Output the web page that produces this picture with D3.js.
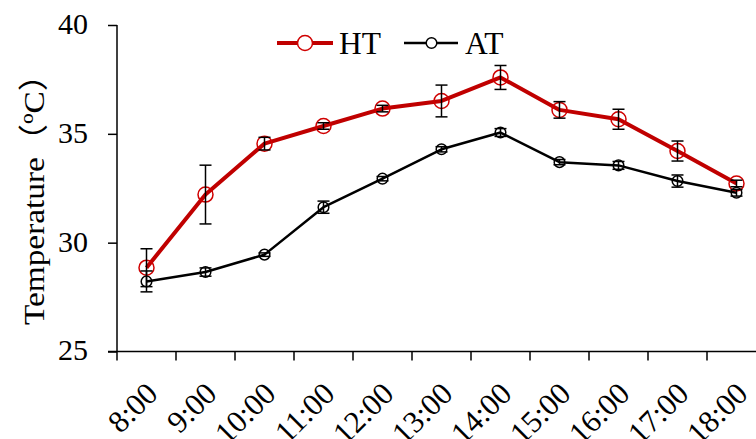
<!DOCTYPE html>
<html>
<head>
<meta charset="utf-8">
<script src="https://cdn.jsdelivr.net/npm/d3@7"></script>
<style>
  html, body { margin: 0; padding: 0; background: #fff; }
  svg { display: block; }
  text { font-family: "Liberation Serif", "Times New Roman", "Noto Sans CJK SC", serif; fill: #000; }
</style>
</head>
<body>
<svg id="chart" width="756" height="439"></svg>
<script>
const categories = ["8:00","9:00","10:00","11:00","12:00","13:00","14:00","15:00","16:00","17:00","18:00"];
const htValues = [28.85, 32.21, 34.55, 35.36, 36.16, 36.51, 37.59, 36.10, 35.67, 34.21, 32.72];
const htErrors = [0.87, 1.35, 0.29, 0.15, 0.15, 0.73, 0.55, 0.38, 0.46, 0.46, 0.15];
const atValues = [28.22, 28.65, 29.45, 31.63, 32.94, 34.29, 35.06, 33.70, 33.55, 32.83, 32.29];
const atErrors = [0.48, 0.19, 0.08, 0.28, 0.10, 0.12, 0.18, 0.12, 0.18, 0.28, 0.15];
const yTicks = [25, 30, 35, 40];
const seriesNames = ["HT", "AT"];
const yTitle = "Temperature（ºC）";

const svg = d3.select("#chart");
const x = d3.scaleBand().domain(categories).range([117, 766]).padding(0);
const y = d3.scaleLinear().domain([25, 40]).range([351.5, 25]);
const cx = c => x(c) + x.bandwidth() / 2;

// Y axis
const yAxis = d3.axisLeft(y).tickValues(yTicks).tickSize(9).tickPadding(20).tickFormat(d3.format("d"));
const gy = svg.append("g").attr("transform", "translate(117,0)").call(yAxis);
gy.select(".domain").attr("stroke", "#000").attr("stroke-width", 1.5).attr("d", `M0,${y(40)}V${y(25)}`);
gy.selectAll(".tick line").attr("stroke", "#000").attr("stroke-width", 1.5);
gy.selectAll(".tick text").attr("font-size", 30).attr("font-family", "Liberation Serif").attr("dy", "0.28em");

// X axis (ticks at band boundaries)
const gx = svg.append("g");
gx.append("line").attr("x1", 108).attr("x2", x.range()[1]).attr("y1", y(25)).attr("y2", y(25))
  .attr("stroke", "#000").attr("stroke-width", 1.5);
const bounds = categories.map(c => x(c)).concat([x.range()[1]]);
gx.selectAll(".xt").data(bounds).join("line")
  .attr("x1", d => d).attr("x2", d => d).attr("y1", y(25)).attr("y2", y(25) + 9)
  .attr("stroke", "#000").attr("stroke-width", 1.5);
gx.selectAll(".xl").data(categories).join("text")
  .attr("transform", d => `translate(${cx(d) + 13},${y(25) + 44}) rotate(-45)`)
  .attr("text-anchor", "end").attr("font-size", 31).text(d => d);

// Y title
svg.append("text")
  .attr("transform", `translate(44,191.5) rotate(-90)`)
  .attr("text-anchor", "middle").attr("font-size", 30)
  .attr("textLength", 267).attr("lengthAdjust", "spacingAndGlyphs")
  .text(yTitle);

// Lines
const lineGen = vals => d3.line().x((d, i) => cx(categories[i])).y(d => y(d))(vals);
svg.append("path").attr("d", lineGen(atValues)).attr("fill", "none").attr("stroke", "#000").attr("stroke-width", 2.5).attr("stroke-linejoin", "round");
svg.append("path").attr("d", lineGen(htValues)).attr("fill", "none").attr("stroke", "#c00000").attr("stroke-width", 4).attr("stroke-linejoin", "round");

// Markers
svg.selectAll(".atm").data(atValues).join("circle")
  .attr("cx", (d, i) => cx(categories[i])).attr("cy", d => y(d)).attr("r", 5.3)
  .attr("fill", "none").attr("stroke", "#000").attr("stroke-width", 1.5);
svg.selectAll(".htm").data(htValues).join("circle")
  .attr("cx", (d, i) => cx(categories[i])).attr("cy", d => y(d)).attr("r", 7.5)
  .attr("fill", "none").attr("stroke", "#d00000").attr("stroke-width", 1.5);

// Error bars
function errorBars(vals, errs) {
  const g = svg.append("g").attr("stroke", "#000").attr("stroke-width", 1.5);
  vals.forEach((v, i) => {
    const px = cx(categories[i]);
    const top = y(v + errs[i]), bot = y(v - errs[i]);
    g.append("line").attr("x1", px).attr("x2", px).attr("y1", top).attr("y2", bot);
    g.append("line").attr("x1", px - 6).attr("x2", px + 6).attr("y1", top).attr("y2", top);
    g.append("line").attr("x1", px - 6).attr("x2", px + 6).attr("y1", bot).attr("y2", bot);
  });
}
errorBars(atValues, atErrors);
errorBars(htValues, htErrors);

// Legend
const lg = svg.append("g");
lg.append("line").attr("x1", 277).attr("x2", 333).attr("y1", 43).attr("y2", 43).attr("stroke", "#c00000").attr("stroke-width", 4);
lg.append("circle").attr("cx", 305).attr("cy", 43).attr("r", 7.5).attr("fill", "#fff").attr("stroke", "#d00000").attr("stroke-width", 1.5);
lg.append("text").attr("x", 339).attr("y", 53.5).attr("font-size", 31.5).text(seriesNames[0]);
lg.append("line").attr("x1", 404).attr("x2", 458).attr("y1", 43).attr("y2", 43).attr("stroke", "#000").attr("stroke-width", 2.5);
lg.append("circle").attr("cx", 431.5).attr("cy", 43).attr("r", 5.3).attr("fill", "#fff").attr("stroke", "#000").attr("stroke-width", 1.5);
lg.append("text").attr("x", 465).attr("y", 53.5).attr("font-size", 31.5).text(seriesNames[1]);
</script>
</body>
</html>
